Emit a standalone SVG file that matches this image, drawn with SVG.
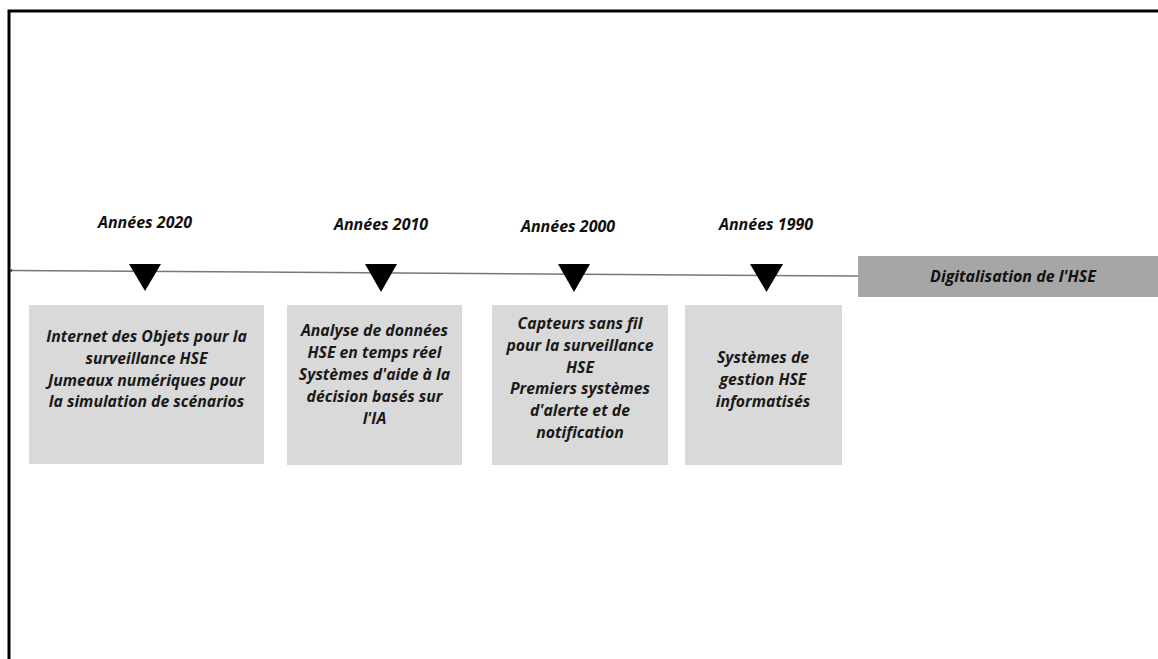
<svg xmlns="http://www.w3.org/2000/svg" width="1158" height="659" viewBox="0 0 1158 659">
<style>
.bg{fill:#ffffff}
.frame{fill:none;stroke:#000;stroke-width:3}
.box{fill:#d9d9d9}
.band{fill:#a6a6a6}
.tri{fill:#000}
.yr{font-family:"Open Sans","DejaVu Sans",sans-serif;font-weight:bold;font-style:italic;font-size:16px;fill:#111;text-anchor:middle}
.bt{font-family:"Open Sans","DejaVu Sans",sans-serif;font-weight:bold;font-style:italic;font-size:15.8px;fill:#1a1a1a;text-anchor:middle}
.line{stroke:#777;stroke-width:1.5;fill:none}
</style>
<rect class="bg" x="0" y="0" width="1158" height="659"/>
<path class="frame" d="M9 659 V11 H1158"/>
<g id="connectors">
<line class="line" x1="11" y1="270.5" x2="858" y2="276"/>
<circle cx="11" cy="270.5" r="1.3" fill="#333"/>
</g>
<g id="band">
<rect class="band" x="858" y="256" width="300" height="41"/>
<text class="yr" x="1013" y="282">Digitalisation de l'HSE</text>
</g>
<g id="n2020">
<text class="yr" x="145" y="228">Années 2020</text>
<polygon class="tri" points="129,264 161,264 145,291"/>
<rect class="box" x="29" y="305" width="235" height="159"/>
<text class="bt" x="146.5" y="342">Internet des Objets pour la</text>
<text class="bt" x="146.5" y="364">surveillance HSE</text>
<text class="bt" x="146.5" y="386">Jumeaux numériques pour</text>
<text class="bt" x="146.5" y="407">la simulation de scénarios</text>
</g>
<g id="n2010">
<text class="yr" x="381" y="230">Années 2010</text>
<polygon class="tri" points="365,264 397,264 381,292"/>
<rect class="box" x="287" y="305" width="175" height="160"/>
<text class="bt" x="374.5" y="336">Analyse de données</text>
<text class="bt" x="374.5" y="358">HSE en temps réel</text>
<text class="bt" x="374.5" y="380">Systèmes d'aide à la</text>
<text class="bt" x="374.5" y="402">décision basés sur</text>
<text class="bt" x="374.5" y="424">l'IA</text>
</g>
<g id="n2000">
<text class="yr" x="568" y="232">Années 2000</text>
<polygon class="tri" points="558,264 590,264 574,292"/>
<rect class="box" x="492" y="305" width="176" height="160"/>
<text class="bt" x="580" y="329">Capteurs sans fil</text>
<text class="bt" x="580" y="351">pour la surveillance</text>
<text class="bt" x="580" y="373">HSE</text>
<text class="bt" x="580" y="394">Premiers systèmes</text>
<text class="bt" x="580" y="416">d'alerte et de</text>
<text class="bt" x="580" y="438">notification</text>
</g>
<g id="n1990">
<text class="yr" x="766" y="230">Années 1990</text>
<polygon class="tri" points="750,264 783,264 766.5,292"/>
<rect class="box" x="685" y="305" width="157" height="160"/>
<text class="bt" x="763" y="363">Systèmes de</text>
<text class="bt" x="763" y="385">gestion HSE</text>
<text class="bt" x="763" y="407">informatisés</text>
</g>
</svg>
